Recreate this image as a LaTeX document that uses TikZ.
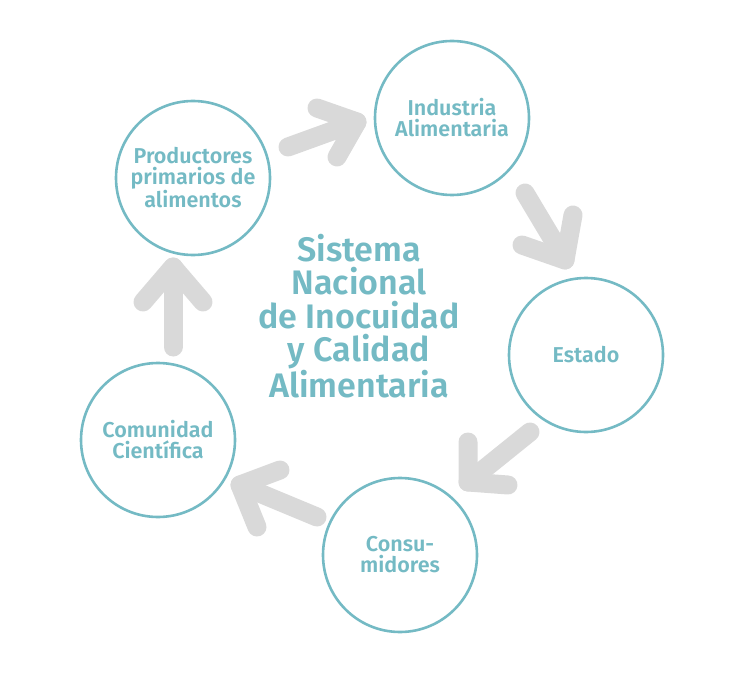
\documentclass[tikz,border=0pt]{standalone}
\usepackage{fontspec}
\setmainfont{Fira Sans}[UprightFont=* SemiBold]
\definecolor{teal}{RGB}{116,186,196}
\definecolor{arrowgray}{RGB}{217,217,217}
\begin{document}
\begin{tikzpicture}[x=1pt,y=-1pt,
  ring/.style={circle,draw=teal,line width=2.6pt,minimum size=154pt,inner sep=0pt,
    text=teal,font=\fontsize{21.5}{21}\selectfont,align=center},
  flow/.style={draw=arrowgray,line width=19pt,line cap=round,line join=round}]
\useasboundingbox (0,0) rectangle (744,695);
\node[ring] (prod) at (193,178) {Productores\\primarios de\\alimentos};
\node[ring] (ind) at (452,118) {Industria\\Alimentaria};
\node[ring] (est) at (586,355) {Estado};
\node[ring] (cons) at (400,555) {Consu-\\midores};
\node[ring] (com) at (158,440) {Comunidad\\Científica};
\node[text=teal,align=center,font=\fontsize{34}{33.5}\selectfont] (sys) at (359,316)
  {Sistema\\Nacional\\de Inocuidad\\y Calidad\\Alimentaria};
% arrows
\coordinate (a1s) at (288,147); \coordinate (a1t) at (357,122);
\coordinate (a1u) at (317,108); \coordinate (a1l) at (337,157);
\draw[flow] (a1s) -- (a1t);
\draw[flow] (a1u) -- (a1t) -- (a1l);
\coordinate (a2s) at (525,193); \coordinate (a2t) at (565,260);
\coordinate (a2u) at (522,245); \coordinate (a2l) at (573,215);
\draw[flow] (a2s) -- (a2t);
\draw[flow] (a2u) -- (a2t) -- (a2l);
\coordinate (a3s) at (530,432); \coordinate (a3t) at (468,482);
\coordinate (a3u) at (468,442); \coordinate (a3l) at (508,485);
\draw[flow] (a3s) -- (a3t);
\draw[flow] (a3u) -- (a3t) -- (a3l);
\coordinate (a4s) at (317,517); \coordinate (a4t) at (240,485);
\coordinate (a4u) at (280,470); \coordinate (a4l) at (257,527);
\draw[flow] (a4s) -- (a4t);
\draw[flow] (a4u) -- (a4t) -- (a4l);
\coordinate (a5s) at (173,347); \coordinate (a5t) at (173,267);
\coordinate (a5u) at (143,302); \coordinate (a5l) at (203,302);
\draw[flow] (a5s) -- (a5t);
\draw[flow] (a5u) -- (a5t) -- (a5l);
\end{tikzpicture}
\end{document}
